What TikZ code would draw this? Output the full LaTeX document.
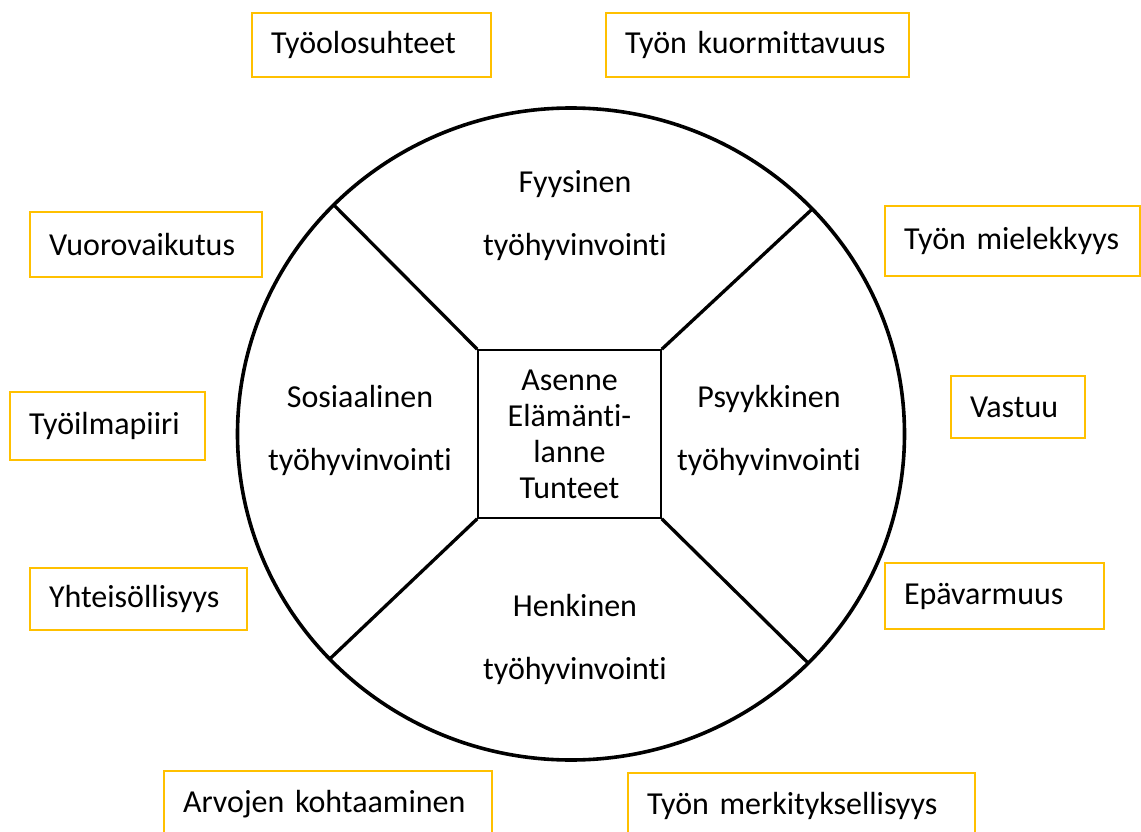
\documentclass[tikz,border=0pt]{standalone}
\usepackage{fontspec}
\setmainfont{Carlito}[RawFeature={-liga;-clig;-dlig;-calt}, WordSpace=0.7]
\usetikzlibrary{shapes.geometric,positioning}
\definecolor{gold}{HTML}{FFC000}

\begin{document}
\begin{tikzpicture}[
    x=1pt, y=-1pt,
    font=\fontsize{32}{38}\selectfont,
    tag/.style={draw=gold, line width=2.6pt, anchor=north west, outer sep=0pt, inner xsep=19pt, inner ysep=0pt, align=left},
    sector/.style={align=center, font=\fontsize{32}{63}\selectfont},
    spoke/.style={line width=3.3pt}
]
\useasboundingbox (0,0) rectangle (1141,832);

% wheel with the four sectors
\node[draw, ellipse, line width=3.6pt, outer sep=0pt, minimum width=667pt, minimum height=652pt] (wheel) at (571,434) {};
\node[draw, line width=1.6pt, minimum width=183pt, minimum height=168pt, align=center, font=\fontsize{32}{36}\selectfont] (core) at (569.5,434) {Asenne\\Elämänti-\\lanne\\Tunteet};

\foreach \c/\a in {north west/136.4, north east/43.6, south west/223.4, south east/316.6}
  \draw[spoke] (core.\c) -- (wheel.\a);

\node[sector] (physical) at (575,216) {Fyysinen\\työhyvinvointi};
\node[sector] (social) at (360,430) {Sosiaalinen\\työhyvinvointi};
\node[sector] (mental) at (769,430) {Psyykkinen\\työhyvinvointi};
\node[sector] (spiritual) at (575,639) {Henkinen\\työhyvinvointi};

% factors around the wheel
\node[tag, text width=201pt, minimum height=64pt] (conditions) at (252,13) {Työolosuhteet};
\node[tag, text width=265pt, minimum height=64pt] (workload) at (606,13) {Työn kuormittavuus};
\node[tag, text width=194pt, minimum height=65pt] (interaction) at (30,212) {Vuorovaikutus};
\node[tag, text width=217pt, minimum height=70pt] (meaning) at (885,206) {Työn mielekkyys};
\node[tag, text width=157pt, minimum height=68pt] (climate) at (10,392) {Työilmapiiri};
\node[tag, text width=96pt, minimum height=62pt] (duty) at (951,376) {Vastuu};
\node[tag, text width=179pt, minimum height=62pt] (community) at (30,568) {Yhteisöllisyys};
\node[tag, text width=181pt, minimum height=66pt] (doubt) at (885,563) {Epävarmuus};
\node[tag, text width=290pt, minimum height=66pt] (values) at (164,771) {Arvojen kohtaaminen};
\node[tag, text width=309pt, minimum height=66pt] (significance) at (628,773) {Työn merkityksellisyys};
\end{tikzpicture}
\end{document}
